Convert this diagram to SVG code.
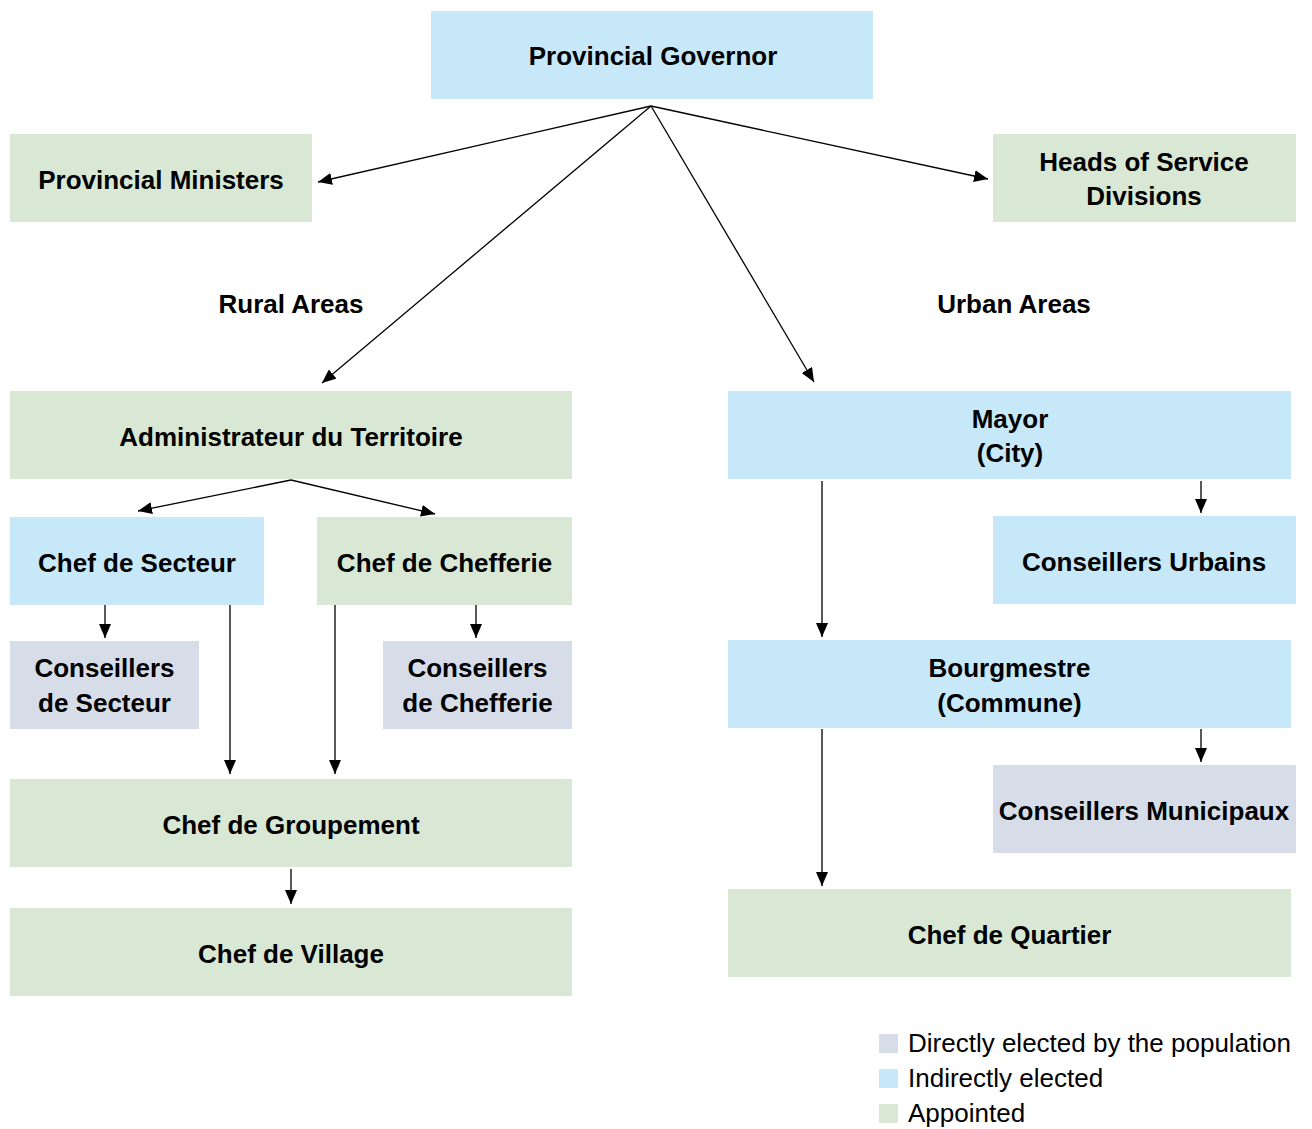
<svg xmlns="http://www.w3.org/2000/svg" width="1312" height="1129" viewBox="0 0 1312 1129">
<defs>
<style>
.d{fill:#d6dde8}.i{fill:#c6e8f8}.a{fill:#d9e8d4}
text{font-family:"Liberation Sans",Arial,sans-serif;fill:#000}
.t{font-size:26px;font-weight:bold;text-anchor:middle}
.l{font-size:26px}
.c{stroke:#000;stroke-width:1.3;fill:none;marker-end:url(#ah)}
</style>
<marker id="ah" markerUnits="userSpaceOnUse" markerWidth="16" markerHeight="12" refX="14" refY="6" orient="auto">
<path d="M0,0 L14,6 L0,12 Z" fill="#000"/>
</marker>
</defs>
<rect width="1312" height="1129" fill="#fff"/>
<g id="connectors">
<line class="c" x1="651" y1="106" x2="318" y2="182"/>
<line class="c" x1="651" y1="106" x2="988" y2="179"/>
<line class="c" x1="651" y1="106" x2="322" y2="383"/>
<line class="c" x1="651" y1="106" x2="814" y2="382"/>
<line class="c" x1="291" y1="480" x2="138" y2="511"/>
<line class="c" x1="291" y1="480" x2="435" y2="514"/>
<line class="c" x1="105" y1="604" x2="105" y2="638"/>
<line class="c" x1="230" y1="604" x2="230" y2="774"/>
<line class="c" x1="335" y1="604" x2="335" y2="774"/>
<line class="c" x1="476" y1="604" x2="476" y2="638"/>
<line class="c" x1="822" y1="481" x2="822" y2="637"/>
<line class="c" x1="1201" y1="481" x2="1201" y2="513"/>
<line class="c" x1="822" y1="729" x2="822" y2="886"/>
<line class="c" x1="1201" y1="729" x2="1201" y2="762"/>
<line class="c" x1="291" y1="869" x2="291" y2="904"/>
</g>
<g id="provincial-governor"><rect class="i" x="431" y="11" width="442" height="88"/><text class="t" x="653" y="65">Provincial Governor</text></g>
<g id="provincial-ministers"><rect class="a" x="10" y="134" width="302" height="88"/><text class="t" x="161" y="189">Provincial Ministers</text></g>
<g id="heads-of-service"><rect class="a" x="993" y="134" width="303" height="88"/><text class="t" x="1144" y="171">Heads of Service</text><text class="t" x="1144" y="205">Divisions</text></g>
<g id="rural-areas"><text class="t" x="291" y="313">Rural Areas</text></g>
<g id="urban-areas"><text class="t" x="1014" y="313">Urban Areas</text></g>
<g id="administrateur"><rect class="a" x="10" y="391" width="562" height="88"/><text class="t" x="291" y="446">Administrateur du Territoire</text></g>
<g id="mayor"><rect class="i" x="728" y="391" width="563" height="88"/><text class="t" x="1010" y="428">Mayor</text><text class="t" x="1010" y="462">(City)</text></g>
<g id="chef-secteur"><rect class="i" x="10" y="517" width="254" height="88"/><text class="t" x="137" y="572">Chef de Secteur</text></g>
<g id="chef-chefferie"><rect class="a" x="317" y="517" width="255" height="88"/><text class="t" x="444.5" y="572">Chef de Chefferie</text></g>
<g id="conseillers-urbains"><rect class="i" x="993" y="516" width="303" height="88"/><text class="t" x="1144" y="571">Conseillers Urbains</text></g>
<g id="conseillers-secteur"><rect class="d" x="10" y="641" width="189" height="88"/><text class="t" x="104.5" y="677">Conseillers</text><text class="t" x="104.5" y="712">de Secteur</text></g>
<g id="conseillers-chefferie"><rect class="d" x="383" y="641" width="189" height="88"/><text class="t" x="477.5" y="677">Conseillers</text><text class="t" x="477.5" y="712">de Chefferie</text></g>
<g id="bourgmestre"><rect class="i" x="728" y="640" width="563" height="88"/><text class="t" x="1009.5" y="677">Bourgmestre</text><text class="t" x="1009.5" y="712">(Commune)</text></g>
<g id="conseillers-municipaux"><rect class="d" x="993" y="765" width="303" height="88"/><text class="t" x="1144" y="820">Conseillers Municipaux</text></g>
<g id="chef-groupement"><rect class="a" x="10" y="779" width="562" height="88"/><text class="t" x="291" y="834">Chef de Groupement</text></g>
<g id="chef-village"><rect class="a" x="10" y="908" width="562" height="88"/><text class="t" x="291" y="963">Chef de Village</text></g>
<g id="chef-quartier"><rect class="a" x="728" y="889" width="563" height="88"/><text class="t" x="1009.5" y="944">Chef de Quartier</text></g>
<g id="legend">
<rect class="d" x="879" y="1034" width="19" height="19"/><text class="l" x="908" y="1052">Directly elected by the population</text>
<rect class="i" x="879" y="1069" width="19" height="19"/><text class="l" x="908" y="1087">Indirectly elected</text>
<rect class="a" x="879" y="1104" width="19" height="19"/><text class="l" x="908" y="1122">Appointed</text>
</g>
</svg>
